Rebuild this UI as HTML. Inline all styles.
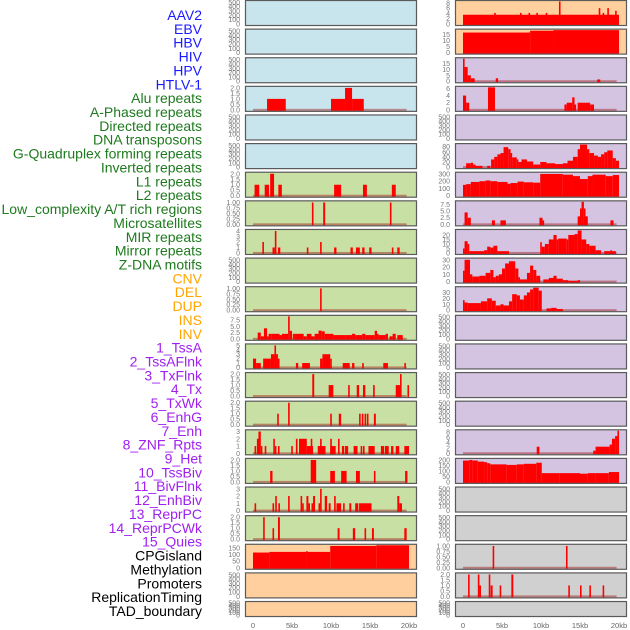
<!DOCTYPE html>
<html><head><meta charset="utf-8"><style>
html,body{margin:0;padding:0;background:#fff;}
svg{display:block;font-family:"Liberation Sans",sans-serif;}
</style></head><body>
<svg id="chart" width="630" height="630" viewBox="0 0 630 630" xmlns="http://www.w3.org/2000/svg"></svg>
<script>
// ---------- data ----------
const trackLabels = ["AAV2","EBV","HBV","HIV","HPV","HTLV-1","Alu repeats","A-Phased repeats","Directed repeats","DNA transposons","G-Quadruplex forming repeats","Inverted repeats","L1 repeats","L2 repeats","Low_complexity A/T rich regions","Microsatellites","MIR repeats","Mirror repeats","Z-DNA motifs","CNV","DEL","DUP","INS","INV","1_TssA","2_TssAFlnk","3_TxFlnk","4_Tx","5_TxWk","6_EnhG","7_Enh","8_ZNF_Rpts","9_Het","10_TssBiv","11_BivFlnk","12_EnhBiv","13_ReprPC","14_ReprPCWk","15_Quies","CPGisland","Methylation","Promoters","ReplicationTiming","TAD_boundary"];
const labelGroups = [6,13,5,15,5];
const groupColors = ["#1a1aff","#1e7a1e","#ffa500","#a020f0","#000000"];
const xTickValues = [0,5,10,15,20];
const xTickLabels = ["0","5kb","10kb","15kb","20kb"];
const leftBg = ["#c8e4ec","#c8e4ec","#c8e4ec","#c8e4ec","#c8e4ec","#c8e4ec","#c8e0a4","#c8e0a4","#c8e0a4","#c8e0a4","#c8e0a4","#c8e0a4","#c8e0a4","#c8e0a4","#c8e0a4","#c8e0a4","#c8e0a4","#c8e0a4","#c8e0a4","#ffd09e","#ffd09e","#ffd09e"];
const rightBg = ["#ffd09e","#ffd09e","#d4c4e2","#d4c4e2","#d4c4e2","#d4c4e2","#d4c4e2","#d4c4e2","#d4c4e2","#d4c4e2","#d4c4e2","#d4c4e2","#d4c4e2","#d4c4e2","#d4c4e2","#d4c4e2","#d4c4e2","#d0d0d0","#d0d0d0","#d0d0d0","#d0d0d0","#d0d0d0"];

const tEmpty=["0","100","200","300","400","500"], vEmpty=[0,100,200,300,400,500];
const tQuarter=["0.00","0.25","0.50","0.75","1.00"], vQuarter=[0,0.25,0.5,0.75,1];
const tHalf=["0.0","0.5","1.0","1.5","2.0"], vHalf=[0,0.5,1,1.5,2];

// segments: [startKb, endKb, value]
const L4=[[1.8,4.2,1],[10,11.8,1],[11.8,12.7,2],[12.7,14.2,1]];
const L7=[[0.2,0.8,1],[1.5,2.05,1],[2.2,2.7,2],[3.25,3.7,1],[10.4,11.3,1],[14.1,14.6,1],[17.8,18.3,1]];
const L8=[[7.55,7.75,1],[9.0,9.25,1],[17.55,17.75,1]];
const L9=[[1.2,1.4,2],[2.5,2.8,1],[2.8,2.95,4],[3.2,3.5,1],[6.9,7.1,1],[8.6,8.8,2],[10.4,10.7,1],[12.5,12.8,1],[13.2,13.7,1],[14.0,14.3,1],[14.9,15.2,1],[17.8,18.0,1],[18.5,18.8,1]];
const L11=[[8.6,8.8,1]];
const L12=[[0.6,1,2.5],[1,1.4,1],[1.4,1.8,4.2],[1.8,2,1],[2,2.4,2],[2.4,3.4,2],[3.4,3.7,1.5],[3.7,4.5,2],[4.5,4.7,9],[4.7,5,3.2],[5.1,5.3,2],[5.3,6.5,2],[6.5,6.9,1],[6.9,7.5,2],[7.5,7.9,1],[7.9,8.4,2],[8.4,8.8,3.3],[8.8,9.2,3],[9.2,10.3,2],[10.3,11.9,1.5],[11.9,12.7,1.5],[12.7,13.1,2],[13.1,14,1.5],[14,14.4,2],[14.4,15.6,1.5],[15.6,15.9,3.2],[15.9,16.1,2],[16.1,17,1.5],[17,17.3,2],[17.5,17.9,1],[17.9,18.3,2],[18.5,19.2,1.5]];
const L13=[[0,0.4,2],[0.4,1,1],[1.3,2.3,2],[2.3,2.75,3],[2.75,2.95,5],[2.95,3.2,3],[3.2,3.3,2],[5.5,5.8,1],[6.3,7.3,1],[8.6,8.9,2],[8.9,9.9,3],[9.9,10.1,2],[11.5,12.4,1],[12.7,13,1],[14,14.15,1],[16.7,17.3,1],[19.4,19.6,1]];
const L14=[[7.6,7.85,2],[9.7,10.3,1],[12.2,12.4,1],[13.3,13.6,1],[14.1,14.4,1],[15.4,15.6,1],[18.3,18.85,1],[18.85,19.0,2],[19.8,20,1]];
const L15=[[3.1,3.3,1],[4.5,4.65,2],[9.9,10.1,1],[11.0,11.3,1],[13.6,13.75,1],[13.95,14.1,1],[14.3,14.45,1],[14.6,14.75,1],[15.5,15.75,1]];
const L16=[[0.2,0.4,1],[0.5,0.7,2],[0.7,1.0,3],[1.0,1.1,1],[1.5,1.7,1],[2.6,2.8,2],[2.8,3.0,1],[3.2,3.4,1],[4.9,5.05,1],[5.5,5.7,2],[5.9,6.9,2],[6.9,7.7,1],[7.4,7.55,2],[8.3,9.3,1],[8.6,8.75,2],[9.9,10.6,1],[9.9,10.05,2],[10.9,11.1,2],[11.4,11.7,1],[11.8,12.2,1],[12.9,13.4,1],[13.8,13.95,1],[14.1,14.3,1],[14.8,15.6,1],[16.4,16.8,1],[16.9,17.4,1],[17.7,18.0,1],[18.3,18.75,1],[19.4,20,1]];
const L17=[[2.2,2.5,1],[7.4,8.1,2],[9.9,10.5,1],[11.3,12.0,1],[13.2,13.7,1],[15.5,15.7,1],[19.5,19.8,1]];
const L18=[[0.2,0.35,1],[2.5,2.7,1],[2.85,3.05,2],[3.25,3.45,1],[4.5,4.65,2],[6.1,6.3,2],[6.3,6.5,1],[6.85,7.1,2],[7.1,7.3,1],[7.5,7.7,1],[7.7,7.95,2],[8.4,8.6,1],[8.6,8.75,3],[9.2,9.5,2],[9.7,9.95,1],[10.4,10.6,2],[10.7,11.3,1],[11.55,11.7,1],[12.35,12.6,1],[13.1,13.5,1],[13.6,15.2,1],[18.5,18.75,2],[18.75,19.1,1]];
const L19=[[1.3,1.5,2],[2.5,2.7,1],[3.2,3.45,2],[10.85,11.1,1],[12.8,13.1,1],[14.3,14.5,1],[15.25,15.5,1],[19.4,19.7,1]];
const L20=[[0,2.1,115],[2.1,6.8,120],[6.8,6.9,125],[6.9,9.9,120],[9.9,15.8,165],[15.8,20,170]];

const R1=[[0,20,3.5],[4.0,4.2,4.2],[7.3,7.5,4.2],[8.4,8.6,4.2],[9.4,9.6,4.2],[10.6,10.8,4.2],[12.3,12.45,8.5],[17.4,17.6,6],[17.9,18.1,4.2],[18.5,18.7,6],[19.5,19.7,5]];
const R2=[[0,8.6,16.5],[8.6,11.6,18],[11.6,20,18.5]];
const R3=[[0,0.2,19],[0.2,0.6,12],[0.6,1,5],[1,1.5,2.5],[4.2,4.5,2.5],[17.2,17.6,1.5]];
const R4=[[0,0.4,4],[0.4,0.8,2],[3.2,4.1,6.3],[13,13.3,1.5],[13.3,14,2],[14,14.3,3.5],[14.3,14.5,1.5],[14.7,16.3,2],[16.3,16.8,1.5]];
const R6=[[0.4,1.0,15],[1.0,1.3,17],[1.3,1.6,10],[1.6,2.5,5],[3.1,3.5,5],[3.6,4.0,30],[4.0,4.4,40],[4.4,4.8,50],[4.8,5.2,55],[5.2,5.8,78],[5.8,6.1,70],[6.1,6.3,55],[6.3,6.9,38],[6.9,7.1,30],[7.1,7.5,20],[7.5,8.2,30],[8.2,9.0,22],[9.0,9.9,10],[9.9,10.7,20],[10.7,11.8,15],[11.8,12.8,12],[12.8,13.4,15],[13.4,14.1,25],[14.1,14.7,40],[14.7,15.0,70],[15.0,15.9,88],[15.9,16.2,70],[16.2,16.8,55],[16.8,17.3,45],[17.3,17.7,40],[17.7,18.1,50],[18.1,18.5,58],[18.5,19.2,65],[19.2,19.6,35],[19.6,20,25]];
const R7=[[0,0.4,150],[0.4,1.0,160],[1.0,2.1,190],[2.1,2.9,200],[2.9,3.5,210],[3.5,4.4,200],[4.4,5.7,190],[5.7,6.1,165],[6.1,7.0,175],[7.0,7.8,195],[7.8,9.0,185],[9.0,9.9,180],[9.9,12.8,300],[12.8,14.1,290],[14.1,15.0,270],[15.0,16.0,230],[16.0,16.6,270],[16.6,18.3,290],[18.3,19.2,270],[19.2,20,285]];
const R8=[[0.2,0.6,4.5],[0.6,1,2.5],[3.7,4.1,1.5],[4.8,5.5,1.5],[9.8,10.2,2.5],[10.2,10.3,1.5],[14.7,15,3],[15,15.2,6],[15.2,15.5,8.5],[15.5,15.7,6],[15.7,16,3],[18.9,19.3,1.5]];
const R9=[[0,0.2,5],[0.2,0.6,13],[0.6,0.8,10],[0.8,2.7,2],[2.7,3.1,3],[3.1,3.5,7],[3.5,3.9,6],[3.9,4.4,8],[4.4,5.9,2],[9.9,10.1,12],[10.1,10.5,7],[10.5,11.0,10],[11.0,11.6,15],[11.6,12.0,20],[12.0,12.2,15],[12.2,13.3,16],[13.3,13.5,15],[13.5,14.3,20],[14.3,14.7,21],[14.7,15.2,25],[15.2,15.8,15],[15.8,16.2,10],[16.2,17.0,8],[17.0,17.7,3],[18.1,18.9,2],[18.9,19.1,3],[19.1,19.6,2]];
const R10=[[0,0.2,15],[0.2,0.9,30],[0.9,1.2,10],[1.2,2.1,7],[2.1,2.9,8],[2.9,3.5,12],[3.5,3.9,16],[3.9,4.2,6],[4.2,4.6,8],[4.6,5.0,10],[5.0,5.4,18],[5.4,5.9,25],[5.9,6.7,28],[6.7,7.1,18],[7.1,7.3,6],[7.3,8.2,3],[8.2,8.6,12],[8.6,9.0,22],[9.0,9.4,16],[9.4,9.9,8],[10.3,11.0,3],[11.0,11.6,5],[11.6,12.0,8],[12.0,12.8,4],[12.8,13.5,2],[13.5,14.7,1],[14.7,15.0,2]];
const R11=[[0,0.2,17],[0.2,0.6,13],[0.6,2.3,12],[2.3,3.1,15],[3.1,3.7,20],[3.7,4.2,16],[4.2,4.8,8],[4.8,5.2,10],[5.2,5.9,8],[5.9,6.3,15],[6.3,6.9,27],[6.9,7.3,25],[7.3,7.8,18],[7.8,8.2,25],[8.2,8.6,30],[8.6,9.0,35],[9.0,9.7,38],[9.7,10.1,33],[10.7,11.3,3],[11.3,12.0,4],[12.0,12.8,2]];
const R16=[[9.45,9.8,2.5],[16.7,17,1],[17,18.8,2.5],[18.8,19.1,3.3],[19.1,19.5,5.5],[19.5,19.8,6.5],[19.8,20,8.5]];
const R17=[[0,0.8,195],[0.8,1.2,200],[1.2,1.9,195],[1.9,2.7,185],[2.7,3.1,180],[3.1,3.5,170],[3.5,5.6,160],[5.6,6.9,155],[6.9,7.8,160],[7.8,9.4,165],[9.4,10.1,175],[10.1,12.4,80],[12.4,15.0,80],[15.0,16.0,75],[16.0,17.0,80],[17.0,18.7,80],[18.7,20,90]];
const R20=[[3.8,4.0,1],[13.2,13.35,1]];
const R21=[[0.65,0.85,2],[1.9,2.05,2],[2.1,2.3,1],[3.3,3.45,2],[3.55,3.8,1],[4.7,4.9,1],[6.2,6.45,2],[13.5,13.7,1],[15.0,15.2,1],[16.2,16.4,1],[17.9,18.1,1]];

// panel specs: [segments, tickValues, tickLabels, domainMax]
const leftPanels=[
 [[],vEmpty,tEmpty,520],[[],vEmpty,tEmpty,520],[[],vEmpty,tEmpty,520],
 [L4,vHalf,tHalf,2.05],[[],vEmpty,tEmpty,520],[[],vEmpty,tEmpty,520],
 [L7,vHalf,tHalf,2.05],[L8,vQuarter,tQuarter,1.03],[L9,[0,1,2,3,4],["0","1","2","3","4"],4.1],
 [[],vEmpty,tEmpty,520],[L11,vQuarter,tQuarter,1.03],[L12,[0,2.5,5,7.5],["0.0","2.5","5.0","7.5"],9],
 [L13,[0,1,2,3,4,5],["0","1","2","3","4","5"],5.1],[L14,vHalf,tHalf,2.05],[L15,vHalf,tHalf,2.05],
 [L16,[0,1,2,3],["0","1","2","3"],3.1],[L17,vHalf,tHalf,2.05],[L18,[0,1,2,3],["0","1","2","3"],3.1],
 [L19,vHalf,tHalf,2.05],[L20,[0,50,100,150],["0","50","100","150"],170],[[],vEmpty,tEmpty,520],[[],vEmpty,tEmpty,520]
];
const rightPanels=[
 [R1,[0,2,4,6,8],["0","2","4","6","8"],8.5],[R2,[0,5,10,15],["0","5","10","15"],18.5],[R3,[0,5,10,15],["0","5","10","15"],19],
 [R4,[0,2,4,6],["0","2","4","6"],6.3],[[],vEmpty,tEmpty,520],[R6,[0,20,40,60,80],["0","20","40","60","80"],88],
 [R7,[0,100,200,300],["0","100","200","300"],310],[R8,[0,2.5,5,7.5],["0.0","2.5","5.0","7.5"],8.5],[R9,[0,5,10,15,20],["0","5","10","15","20"],25],
 [R10,[0,10,20,30],["0","10","20","30"],31],[R11,[0,10,20,30],["0","10","20","30"],38],[[],vEmpty,tEmpty,520],
 [[],vEmpty,tEmpty,520],[[],vEmpty,tEmpty,520],[[],vEmpty,tEmpty,520],
 [R16,[0,2,4,6,8],["0","2","4","6","8"],8.5],[R17,[0,50,100,150,200],["0","50","100","150","200"],205],[[],vEmpty,tEmpty,520],
 [[],vEmpty,tEmpty,520],[R20,vQuarter,tQuarter,1.03],[R21,vHalf,tHalf,2.05],[[],vEmpty,tEmpty,520]
];

// ---------- drawing ----------
const NS="http://www.w3.org/2000/svg";
const svg=document.getElementById("chart");
function mk(tag,attrs,parent){const e=document.createElementNS(NS,tag);for(const k in attrs)e.setAttribute(k,attrs[k]);(parent||svg).appendChild(e);return e;}

// labels
let li=0;
labelGroups.forEach((n,g)=>{
  for(let i=0;i<n;i++){
    const t=mk("text",{x:202,y:20+li*13.86,"text-anchor":"end","font-size":"14",fill:groupColors[g]});
    t.textContent=trackLabels[li];
    
    
    li++;
  }
});

const PITCH=28.62;
const cols=[{x0:245,x1:417,kx0:253,kx1:409,bg:leftBg,panels:leftPanels,tickX:240,name:"left"},
            {x0:455,x1:627,kx0:463,kx1:619,bg:rightBg,panels:rightPanels,tickX:450,name:"right"}];

cols.forEach(c=>{
  const xs=kb=>c.kx0+(kb/20)*(c.kx1-c.kx0);
  c.panels.forEach((p,r)=>{
    const top=r*PITCH+0.5, h=(r===21?15:25), bot=top+h;
    const [segs,tv,tl,ymax]=p;
    const ys=v=>bot-1.5-(v/ymax)*(h-2.5);
    const g=mk("g",{});
    
    
    mk("rect",{x:c.x0,y:top,width:c.x1-c.x0,height:h,fill:c.bg[r],stroke:"none"},g);
    // baseline
    if(segs.length){
      mk("rect",{x:xs(0),y:ys(0)-1,width:xs(19.7)-xs(0),height:2,fill:"rgba(160,20,20,0.45)"},g);
    }
    segs.forEach(s=>{
      const x=xs(s[0]),w=Math.max(1.6,xs(s[1])-xs(s[0]));
      const b=mk("rect",{x:x,y:ys(s[2]),width:w,height:Math.max(0,ys(0)-ys(s[2])+1),fill:"#ff0000"},g);
      
      
    });
    mk("rect",{x:c.x0+0.5,y:top,width:c.x1-c.x0-1,height:h,fill:"none",stroke:"#5a5a5a","stroke-width":"1.2"},g);
    tv.forEach((v,i)=>{
      const t=mk("text",{x:c.tickX,y:ys(v)+2.5,"text-anchor":"end","font-size":"7",fill:"#777"},g);
      t.textContent=tl[i];
      
      
    });
  });
  xTickValues.forEach((v,i)=>{
    const t=mk("text",{x:xs(v),y:628,"text-anchor":"middle","font-size":"7.5",fill:"#666"});
    t.textContent=xTickLabels[i];
    
    
  });
});
</script>
</body></html>
